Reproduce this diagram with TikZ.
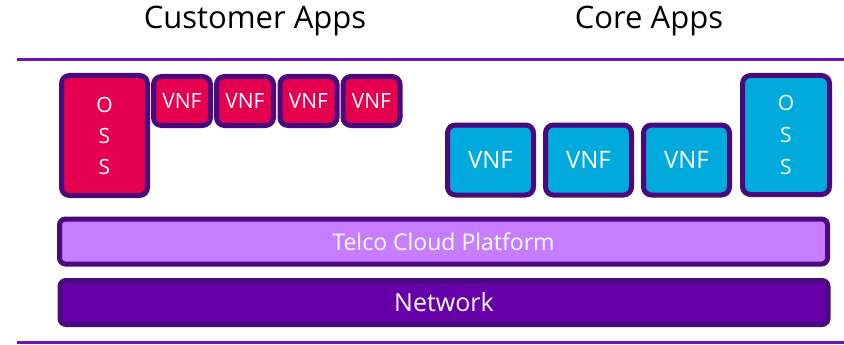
\documentclass[tikz,border=0pt]{standalone}
\usepackage{fontspec}
\setmainfont{Open Sans}
\definecolor{rim}{HTML}{4A0A7E}
\definecolor{rule}{HTML}{7012B8}
\definecolor{custfill}{HTML}{E4004F}
\definecolor{corefill}{HTML}{00AADD}
\definecolor{platfill}{HTML}{C77DFF}
\definecolor{netfill}{HTML}{6600A8}
\begin{document}
\begin{tikzpicture}[x=1pt,y=-1pt,
  tile/.style={draw=rim, line width=5pt, rounded corners=8pt, text=white, inner sep=0pt, align=center},
  cust/.style={tile, fill=custfill},
  core/.style={tile, fill=corefill},
  heading/.style={font=\fontsize{31}{36}\selectfont, text=black}]
\useasboundingbox (0,0) rectangle (844,345);

% section headings
\node[heading] (hcust) at (255,21) {Customer Apps};
\node[heading] (hcore) at (649,21) {Core Apps};

% horizontal rules
\draw[rule, line width=3pt] (17,60) -- (844,60);
\draw[rule, line width=3pt] (17,342) -- (844,342);

% customer side
\node[cust, minimum width=86pt, minimum height=120pt,
      font=\fontsize{21}{31}\selectfont] (oss1) at (104.5,135.5) {O\\S\\S};
\foreach \i/\x in {1/182, 2/245, 3/308.5, 4/371.5}
  \node[cust, minimum width=57pt, minimum height=49pt,
        font=\fontsize{21}{24}\selectfont] (cv\i) at (\x,101) {VNF};

% core side
\foreach \i/\x in {1/490.5, 2/588.5, 3/686.5}
  \node[core, minimum width=86pt, minimum height=70pt,
        font=\fontsize{24}{28}\selectfont] (kv\i) at (\x,160) {VNF};
\node[core, minimum width=87pt, minimum height=119pt,
      font=\fontsize{21}{32}\selectfont] (oss2) at (786,135) {O\\S\\S};

% platform layers
\node[tile, fill=platfill, minimum width=768pt, minimum height=45pt,
      font=\fontsize{23}{27}\selectfont, rounded corners=6pt] (plat) at (443.5,241.5) {Telco Cloud Platform};
\node[tile, fill=netfill, minimum width=768pt, minimum height=44pt,
      font=\fontsize{25}{29}\selectfont, rounded corners=6pt] (net) at (444,302.5) {Network};
\end{tikzpicture}
\end{document}
